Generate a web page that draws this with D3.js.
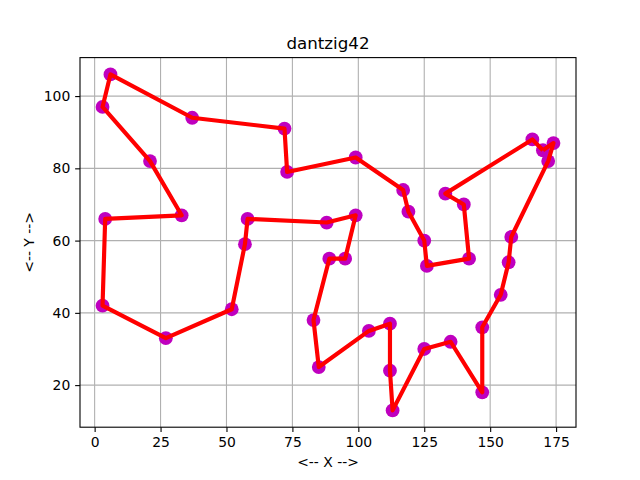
<!DOCTYPE html>
<html><head><meta charset="utf-8">
<script src="https://cdn.jsdelivr.net/npm/d3@7/dist/d3.min.js"></script>
<style>body{margin:0;background:#fff}svg{display:block}text{font-family:"DejaVu Sans",sans-serif}</style>
</head><body>
<svg id="c" width="640" height="480"></svg>
<script>
const tourX = [170,166,133,140,142,126,125,119,117,99,73,72,37,6,3,21,33,4,3,27,52,57,58,88,99,95,89,83,85,104,112,112,113,125,135,147,147,154,157,158,172,174];
const tourY = [85,88,73,70,55,53,60,68,74,83,79,91,94,106,97,82,67,66,42,33,41,59,66,65,67,55,55,38,25,35,37,24,13,30,32,18,36,45,54,61,82,87];
const xTicks = [0,25,50,75,100,125,150,175];
const yTicks = [20,40,60,80,100];
const titleText = "dantzig42";
const xLabel = "<-- X -->";
const yLabel = "<-- Y -->";

const svg = d3.select("#c");
const L=80, R=576, T=57.6, B=427.2;
const xmin=d3.min(tourX), xmax=d3.max(tourX), ymin=d3.min(tourY), ymax=d3.max(tourY);
const mx=(xmax-xmin)*0.05, my=(ymax-ymin)*0.05;
const x=d3.scaleLinear().domain([xmin-mx,xmax+mx]).range([L,R]);
const y=d3.scaleLinear().domain([ymin-my,ymax+my]).range([B,T]);

// grid
const g=svg.append("g");
g.selectAll(".gx").data(xTicks).enter().append("line")
 .attr("x1",d=>x(d)).attr("x2",d=>x(d)).attr("y1",T).attr("y2",B)
 .attr("stroke","#b0b0b0").attr("stroke-width",1.1);
g.selectAll(".gy").data(yTicks).enter().append("line")
 .attr("y1",d=>y(d)).attr("y2",d=>y(d)).attr("x1",L).attr("x2",R)
 .attr("stroke","#b0b0b0").attr("stroke-width",1.1);

// clip
svg.append("clipPath").attr("id","clip").append("rect").attr("x",L).attr("y",T).attr("width",R-L).attr("height",B-T);
const pts=tourX.map((d,i)=>[d,tourY[i]]);
const data=svg.append("g").attr("clip-path","url(#clip)");
data.selectAll("circle").data(pts).enter().append("circle")
 .attr("cx",d=>x(d[0])).attr("cy",d=>y(d[1])).attr("r",6.9).attr("fill","#bf00bf");
const closed=pts.concat([pts[0]]);
data.append("path").attr("d",d3.line().x(d=>x(d[0])).y(d=>y(d[1]))(closed))
 .attr("fill","none").attr("stroke","#ff0000").attr("stroke-width",4.17)
 .attr("stroke-linejoin","round").attr("stroke-linecap","butt");

// axes
const xa=svg.append("g").attr("transform",`translate(0,${B})`)
 .call(d3.axisBottom(x).tickValues(xTicks).tickSize(4.86).tickPadding(4.86).tickFormat(d3.format("d")));
const ya=svg.append("g").attr("transform",`translate(${L},0)`)
 .call(d3.axisLeft(y).tickValues(yTicks).tickSize(4.86).tickPadding(4.86).tickFormat(d3.format("d")));
[xa,ya].forEach(a=>{a.select(".domain").remove();a.selectAll("line").attr("stroke","#000").attr("stroke-width",1.1);
 a.selectAll("text").attr("font-size","13.9px").attr("fill","#000").attr("font-family","DejaVu Sans");});

svg.append("rect").attr("x",L).attr("y",T).attr("width",R-L).attr("height",B-T)
 .attr("fill","none").attr("stroke","#000").attr("stroke-width",1.1);

svg.append("text").attr("x",(L+R)/2).attr("y",T-8.3).attr("text-anchor","middle")
 .attr("font-size","16.7px").text(titleText);
svg.append("text").attr("x",(L+R)/2).attr("y",467).attr("text-anchor","middle")
 .attr("font-size","13.9px").text(xLabel);
svg.append("text").attr("transform",`translate(34,${(T+B)/2}) rotate(-90)`).attr("text-anchor","middle")
 .attr("font-size","13.9px").text(yLabel);
</script>
</body></html>
